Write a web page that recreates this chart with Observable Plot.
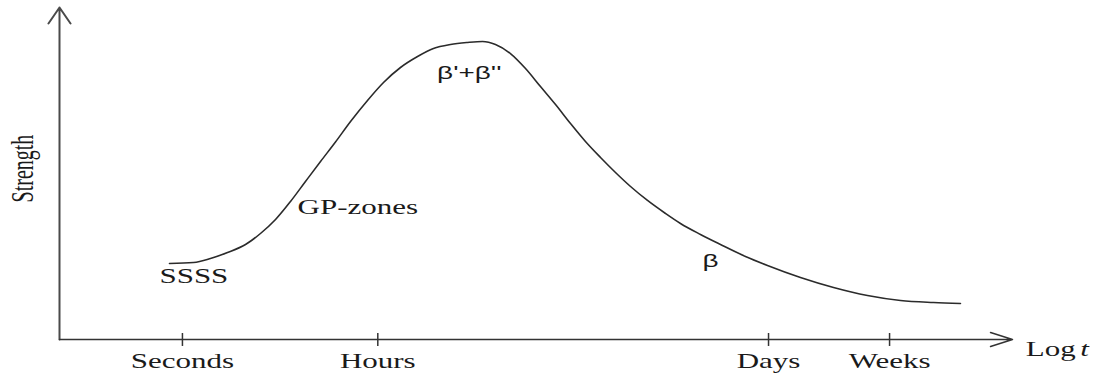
<!DOCTYPE html>
<html>
<head>
<meta charset="utf-8">
<script src="https://cdn.jsdelivr.net/npm/d3@7"></script>
<script src="https://cdn.jsdelivr.net/npm/@observablehq/plot@0.6"></script>
<style>
  html, body { margin: 0; padding: 0; background: #fff; }
</style>
</head>
<body>
<div id="chart"></div>
<script>
// Schematic ageing curve: strength against log time (arbitrary units, 0–100 on both axes)
const logT = [11.54, 14.06, 15.84, 17.63, 19.52, 21.09, 22.67, 24.24, 25.81, 27.39, 28.96, 30.54, 32.32, 34.00, 35.78, 37.57, 39.24, 41.03, 42.81, 44.39,
              45.75, 47.32, 48.90, 50.47, 52.05, 53.62, 55.19, 56.77, 58.34, 59.92, 61.70, 63.59, 65.16, 67.26, 69.36, 71.98, 74.29, 77.75, 81.22, 84.78, 88.25, 91.71, 94.54];
const strength = [22.89, 23.19, 24.40, 26.20, 28.61, 31.93, 36.14, 41.57, 47.59, 53.61, 59.49, 65.66, 72.00, 77.41, 81.93, 85.24, 87.65, 88.86, 89.46, 89.76,
                  88.86, 86.14, 81.63, 76.20, 70.78, 65.06, 59.64, 54.82, 50.30, 46.08, 41.87, 37.95, 34.94, 31.63, 28.61, 25.00, 22.29, 18.67, 15.66, 13.25, 11.75, 11.14, 10.84];

// Time-scale ticks
const tickNames = ["Seconds", "Hours", "Days", "Weeks"];
const tickPos = [12.9, 33.4, 74.4, 87.1];

// Stage labels along the curve
const stageNames = ["SSSS", "GP-zones", "β'+β''", "β"];
const stageT = [14.1, 31.3, 43.0, 68.3];
const stageS = [18.8, 39.8, 80.1, 23.5];

const curve = logT.map((t, i) => ({t, s: strength[i]}));
const stages = stageNames.map((name, i) => ({name, t: stageT[i], s: stageS[i]}));
const ticks = tickPos.map((p, i) => ({p, name: tickNames[i]}));

const serif = "'Liberation Serif', 'Times New Roman', serif";
const sans = "'Liberation Sans', Arial, sans-serif";
const ink = "#1a1a1a";

const chart = Plot.plot({
  width: 1099,
  height: 373,
  marginLeft: 59,
  marginRight: 87,
  marginTop: 7,
  marginBottom: 34,
  x: {domain: [0, 100], axis: null},
  y: {domain: [0, 100], axis: null},
  style: {fontFamily: serif, background: "#fff", color: ink, overflow: "visible"},
  marks: [
    // axes drawn as arrows
    Plot.arrow({length: 1}, {x1: 0, y1: 0, x2: 0, y2: 100, stroke: "#4a4a4a", strokeWidth: 2, headLength: 14.6, headAngle: 69}),
    Plot.arrow({length: 1}, {x1: 0, y1: 0, x2: 100, y2: 0, stroke: "#333", strokeWidth: 1.5, headLength: 23, headAngle: 35}),
    // tick marks crossing the time axis
    Plot.ruleX(ticks, {x: "p", y1: 1.8, y2: -2.1, stroke: "#333", strokeWidth: 1.5}),
    // tick labels
    Plot.axisX({ticks: tickPos, tickFormat: d => tickNames[tickPos.indexOf(d)], tickSize: 0, tickPadding: 14, fontSize: 20, fill: ink}),
    // the curve
    Plot.line(curve, {x: "t", y: "s", curve: "monotone-x", stroke: "#2b2b2b", strokeWidth: 1.6}),
    // stage labels (phase names in the serif face, β symbols in the sans face)
    Plot.text(stages.slice(0, 2), {x: "t", y: "s", text: "name", fontSize: 20, fill: ink}),
    Plot.text(stages.slice(2), {x: "t", y: "s", text: "name", fontSize: 18, fill: ink}),
    // axis titles
    Plot.text(["Strength"], {x: -3.8, y: 51.5, text: d => d, rotate: -90, fontSize: 20, fill: ink}),
    Plot.text(["Log"], {x: 101.4, y: -2.9, text: d => d, textAnchor: "start", fontSize: 20, fill: ink}),
    Plot.text(["t"], {x: 107.1, y: -2.9, text: d => d, textAnchor: "start", fontSize: 20, fontStyle: "italic", fill: ink})
  ]
});

// The lettering is set wide: stretch each label horizontally about its own anchor point,
// and pick the face per label (β symbols in sans, everything else in serif).
const stretch = 1.55;
chart.querySelectorAll("text").forEach(t => {
  let tr = t.getAttribute("transform");
  if (!tr) {
    const x = t.getAttribute("x") || 0, y = t.getAttribute("y") || 0;
    t.removeAttribute("x");
    t.removeAttribute("y");
    tr = `translate(${x},${y})`;
  }
  const rotated = /rotate\(\s*-?90/.test(tr);
  t.setAttribute("transform", tr + (rotated ? ` scale(1,${stretch})` : ` scale(${stretch},1)`));
  t.style.fontFamily = t.textContent.includes("β") ? sans : serif;
});

document.getElementById("chart").appendChild(chart);
</script>
</body>
</html>
